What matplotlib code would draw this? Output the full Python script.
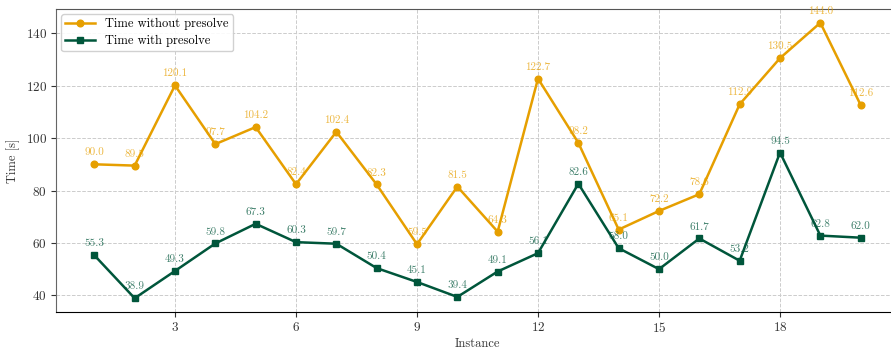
import matplotlib
matplotlib.use("Agg")
import matplotlib.pyplot as plt

plt.rcParams["font.family"] = "serif"
plt.rcParams["font.serif"] = ["cmr10", "DejaVu Serif"]
plt.rcParams["mathtext.fontset"] = "cm"
plt.rcParams["axes.unicode_minus"] = False
plt.rcParams["axes.formatter.use_mathtext"] = True

instances = list(range(1, 21))
t_without = [90.0, 89.5, 120.1, 97.7, 104.2, 82.4, 102.4, 82.3, 59.5, 81.5,
             64.3, 122.7, 98.2, 65.1, 72.2, 78.6, 112.9, 130.5, 144.0, 112.6]
t_with = [55.3, 38.9, 49.3, 59.8, 67.3, 60.3, 59.7, 50.4, 45.1, 39.4,
          49.1, 56.1, 82.6, 58.0, 50.0, 61.7, 53.2, 94.5, 62.8, 62.0]

C_WO = "#E69F00"
C_W = "#00563B"

fig = plt.figure(figsize=(8.91, 3.49), dpi=100)
ax = fig.add_axes([56 / 891, 37 / 349, 843 / 891, 303 / 349])

ax.plot(instances, t_without, color=C_WO, lw=1.8, marker="o", ms=4.8,
        label="Time without presolve")
ax.plot(instances, t_with, color=C_W, lw=1.8, marker="s", ms=4.8,
        label="Time with presolve")

for x, y in zip(instances, t_without):
    ax.annotate(f"{y:.1f}", (x, y), xytext=(0, 5), textcoords="offset points",
                ha="center", va="bottom", fontsize=8, color=C_WO, alpha=0.75)
for x, y in zip(instances, t_with):
    ax.annotate(f"{y:.1f}", (x, y), xytext=(0, 5), textcoords="offset points",
                ha="center", va="bottom", fontsize=8, color=C_W, alpha=0.75)

ax.set_xlim(0.05, 20.95)
ax.set_ylim(33.65, 149.25)
ax.set_xticks([3, 6, 9, 12, 15, 18])
ax.set_yticks([40, 60, 80, 100, 120, 140])
ax.grid(True, ls="--", lw=0.7, color="#cccccc")
ax.set_axisbelow(True)
ax.set_xlabel("Instance", fontsize=9, color="#333333", labelpad=2)
ax.set_ylabel("Time [s]", fontsize=9, color="#333333")
ax.tick_params(labelsize=9.5, colors="#333333", pad=3)
ax.spines["left"].set_color("#666666")
ax.spines["top"].set_color("#555555")
ax.spines["bottom"].set_color("black")
ax.spines["right"].set_visible(False)

ax.legend(loc="upper left", fontsize=9, framealpha=0.9, edgecolor="#cccccc",
          handlelength=2.4, borderaxespad=0.4, borderpad=0.35,
          labelspacing=0.35)

fig.savefig("out.png", dpi=100)
